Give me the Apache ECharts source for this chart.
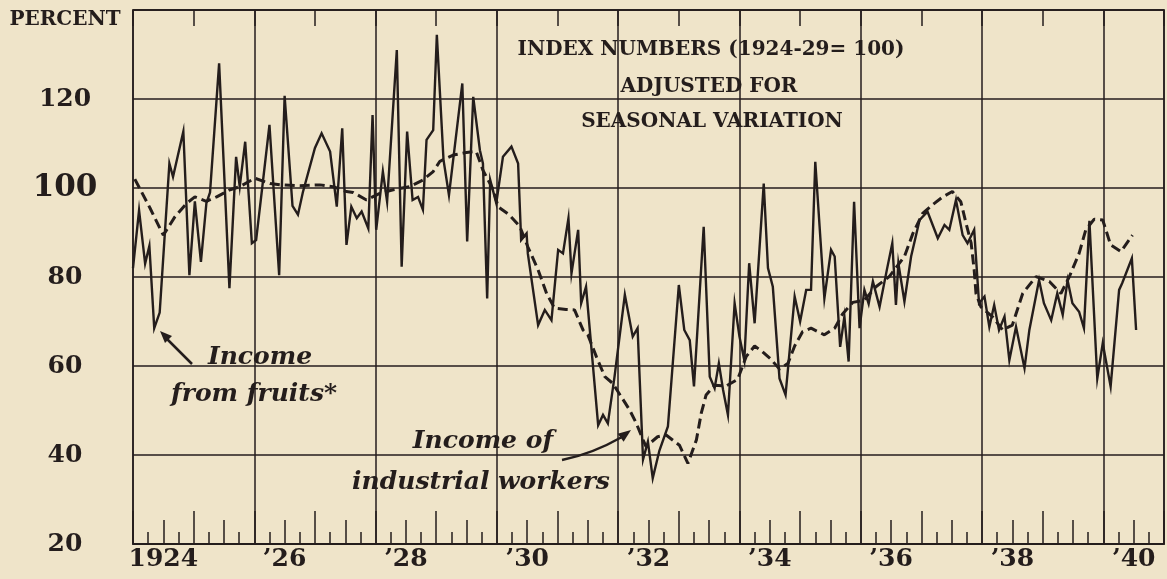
<!DOCTYPE html>
<html><head><meta charset="utf-8">
<script src="https://cdn.jsdelivr.net/npm/echarts/dist/echarts.min.js"></script>
<style>html,body{margin:0;padding:0;background:#efe4c9}#c{width:1167px;height:579px}</style>
</head><body><div id="c"></div>
<script>
// ---- data ----
const fruitDates = [1924.00,1924.10,1924.20,1924.27,1924.35,1924.44,1924.60,1924.66,1924.83,1924.93,
1925.02,1925.12,1925.21,1925.27,1925.42,1925.59,1925.70,1925.76,1925.85,1925.96,
1926.03,1926.13,1926.25,1926.41,1926.50,1926.63,1926.72,1926.80,
1927.00,1927.11,1927.25,1927.36,1927.45,1927.52,1927.60,1927.69,1927.77,1927.88,1927.95,
1928.01,1928.12,1928.19,1928.35,1928.43,1928.52,1928.61,1928.70,1928.78,1928.84,1928.95,
1929.01,1929.12,1929.21,1929.43,1929.51,1929.61,1929.72,1929.77,1929.84,1929.89,1929.99,
1930.10,1930.24,1930.35,1930.40,1930.49,1930.51,1930.68,1930.79,1930.90,
1931.01,1931.09,1931.18,1931.23,1931.34,1931.39,1931.47,1931.67,1931.75,1931.83,1931.94,
1932.11,1932.24,1932.32,1932.41,1932.49,1932.57,1932.68,1932.82,
1933.00,1933.09,1933.18,1933.25,1933.41,1933.51,1933.59,1933.66,1933.73,1933.81,1933.92,
1934.00,1934.08,1934.16,1934.25,1934.40,1934.47,1934.55,1934.66,1934.76,1934.91,
1935.00,1935.10,1935.18,1935.25,1935.40,1935.51,1935.57,1935.66,1935.73,1935.80,1935.89,1935.98,
1936.06,1936.13,1936.20,1936.31,1936.43,1936.52,1936.58,1936.62,1936.72,1936.83,1936.97,
1937.10,1937.27,1937.38,1937.46,1937.57,1937.68,1937.76,1937.87,1937.95,
1938.04,1938.12,1938.20,1938.28,1938.37,1938.45,1938.56,1938.70,1938.78,1938.94,
1939.02,1939.14,1939.24,1939.33,1939.41,1939.49,1939.60,1939.68,1939.77,1939.90,1939.99,
1940.12,1940.26,1940.31,1940.47,1940.54];
const fruitValues = [82,95,83,87,68.5,72,105.5,102.5,112.7,80.4,
97,83.4,96.6,99,128,77.5,107,100.3,110.4,87.6,
88.3,100,114.2,80.4,120.7,96,94,99,
109,112.3,108.2,95.8,113.4,87.2,95.8,93.2,94.7,90.9,116.4,
90.6,103.7,96.9,131,82.3,112.7,97.3,98,95.1,110.8,113,
134.4,106.3,98.4,123.5,88,120.5,108.5,105.5,75.2,101.8,96.6,
107,109.3,105.5,88.3,89.8,85.3,69.2,72.6,70.3,
86.1,85.3,93.2,80.8,90.6,74.1,77.8,46.7,49,47.1,57.6,
76,66.6,68.5,39,43,34.8,41,46.4,
78.2,68.1,65.8,55.4,91.3,57.6,55,60.6,54.6,49,74.1,
66.6,61.3,83.1,69.6,101,82,77.8,57.2,53.5,75.6,
70,77.1,77.1,105.9,75.2,86.1,84.6,64.3,71.1,61,96.9,68.5,
77.1,74,79,73.3,81.6,87.6,73.7,83.1,74.5,84.6,92.8,
94.7,88.7,91.7,90.6,97.3,89.4,87.6,90.6,74.1,
75.6,68.8,73.7,68.1,71.1,61.3,68.8,59.5,68.1,79.3,
74.1,70.3,76.3,71.5,79.3,74.1,72.2,68.5,92.6,57.2,65.1,
55.4,77.1,78.6,84.2,68.1];

const workerDates = [1924.03,1924.28,1924.50,1924.69,1924.88,1925.02,1925.21,1925.38,1925.60,1925.76,
1926.01,1926.26,1926.45,1926.75,1927.08,1927.30,1927.52,1927.63,1927.85,
1928.07,1928.29,1928.56,1928.78,1928.95,1929.06,1929.28,1929.50,1929.66,1929.77,1929.94,
1930.02,1930.21,1930.38,1930.51,1930.68,1930.82,1930.95,
1931.14,1931.28,1931.42,1931.50,1931.64,1931.78,1931.91,
1932.05,1932.19,1932.30,1932.41,1932.46,1932.65,1932.79,
1933.01,1933.15,1933.29,1933.37,1933.45,1933.59,1933.78,1933.97,
1934.11,1934.25,1934.38,1934.52,1934.66,1934.80,1934.91,
1935.04,1935.18,1935.40,1935.57,1935.70,1935.87,
1936.06,1936.25,1936.47,1936.72,1936.86,
1937.02,1937.18,1937.35,1937.51,1937.65,1937.73,1937.82,1937.87,1937.90,1937.98,
1938.17,1938.34,1938.50,1938.67,1938.89,
1939.11,1939.30,1939.44,1939.60,1939.71,1939.85,1939.99,
1940.12,1940.29,1940.48];
const workerValues = [102,95.5,89.4,93.5,96.5,98,97,98,99.6,100.3,
102.2,101,100.7,100.5,100.7,100.3,99.2,99,97.3,
98.8,99.6,100.3,101.8,103.7,106,107.4,108,108.2,104,99.6,
95.8,93.9,91.3,86.8,81.6,76.3,73,
72.7,72.6,68.1,67,62.1,57.6,56.1,
53.1,50.1,47.1,43.4,41.9,44.1,44.5,
42.2,38.1,43.4,49.4,53.5,55.7,55.5,57,
62.1,64.5,63.2,61.5,59.3,60.6,64.5,
67.7,68.5,67,68.5,71.7,74.3,
74.8,77.8,80.1,84.6,89.8,
94.3,96.2,98,99.2,96.9,92.4,87.6,81.6,76.3,73.3,
71.1,68.1,69.2,76.3,80.1,
79,76.3,80.1,85.3,90.6,93,92.8,
87.2,85.7,89.4];

const yearLabels = {1924:'1924',1926:'\u201926',1928:'\u201928',1930:'\u201930',1932:'\u201932',1934:'\u201934',1936:'\u201936',1938:'\u201938',1940:'\u201940'};
const yTickLabels = {20:'20',40:'40',60:'60',80:'80',100:'100',120:'120'};

// ---- chart ----
const INK = '#241d1c';
const SERIF = '"DejaVu Serif", "Liberation Serif", serif';
const chart = echarts.init(document.getElementById('c'), null, {renderer:'canvas'});

const xBase = {type:'value', min:1924, max:1941, gridIndex:0};
const option = {
  backgroundColor:'#efe4c9',
  animation:false,
  grid:{left:133, right:2, top:10, bottom:35, show:true, borderColor:INK, borderWidth:1.5, backgroundColor:'transparent'},
  xAxis:[
    Object.assign({}, xBase, {position:'bottom', interval:0.5,
      axisLine:{show:true, lineStyle:{color:INK, width:2}},
      axisTick:{show:true, inside:true, length:24, lineStyle:{color:INK, width:1.5}},
      minorTick:{show:true, splitNumber:2, length:12, lineStyle:{color:INK, width:1.5}},
      splitLine:{show:false},
      axisLabel:{show:true, margin:3, color:INK, fontFamily:SERIF, fontWeight:'bold', fontSize:25,
        formatter:function(v){ if(Math.abs(v-Math.floor(v)-0.5)<1e-6 && yearLabels[Math.floor(v)]) return yearLabels[Math.floor(v)]; return '';}}
    }),
    Object.assign({}, xBase, {position:'bottom', interval:1,
      axisLine:{show:false}, axisLabel:{show:false}, splitLine:{show:false},
      axisTick:{show:true, inside:true, length:33, lineStyle:{color:INK, width:1.5}}}),
    Object.assign({}, xBase, {position:'top', interval:2,
      axisLine:{show:false}, axisLabel:{show:false}, axisTick:{show:false},
      splitLine:{show:true, lineStyle:{color:INK, width:1.5}}}),
    Object.assign({}, xBase, {position:'top', interval:1,
      axisLine:{show:true, lineStyle:{color:INK, width:1.5}}, axisLabel:{show:false}, splitLine:{show:false},
      axisTick:{show:true, inside:true, length:16, lineStyle:{color:INK, width:1.5}}})
  ],
  yAxis:{type:'value', min:20, max:140, interval:20,
    axisLine:{show:false}, axisTick:{show:false},
    splitLine:{show:true, lineStyle:{color:INK, width:1.5}},
    axisLabel:{margin:68, align:'center', color:INK, fontFamily:SERIF, fontWeight:'bold', fontSize:25,
      formatter:function(v){ if(v===100) return '{big|100}'; return yTickLabels[v]||''; },
      rich:{big:{fontSize:31, fontWeight:'bold', fontFamily:SERIF, color:INK}}}
  },
  series:[
    {name:'Income from fruits*', type:'line', xAxisIndex:0, symbol:'none', z:5,
      data:fruitDates.map((d,i)=>[d, fruitValues[i]]),
      lineStyle:{color:INK, width:2.4, join:'miter'}},
    {name:'Income of industrial workers', type:'line', xAxisIndex:0, symbol:'none', z:6,
      data:workerDates.map((d,i)=>[d, workerValues[i]]),
      lineStyle:{color:INK, width:3, type:[10,5]}}
  ],
  graphic:[
    {type:'text', x:65, y:20, style:{text:'PERCENT', font:'bold 20px '+SERIF, fill:INK, align:'center', verticalAlign:'middle'}},
    {type:'text', x:711, y:50, z:10, style:{text:'INDEX NUMBERS (1924-29= 100)', font:'bold 20px '+SERIF, fill:INK, align:'center', verticalAlign:'middle'}},
    {type:'text', x:709, y:87, z:10, style:{text:'ADJUSTED FOR', font:'bold 20px '+SERIF, fill:INK, align:'center', verticalAlign:'middle'}},
    {type:'text', x:712, y:122, z:10, style:{text:'SEASONAL VARIATION', font:'bold 20px '+SERIF, fill:INK, align:'center', verticalAlign:'middle'}},
    {type:'text', x:260, y:357, z:10, style:{text:'Income', font:'italic bold 25px '+SERIF, fill:INK, align:'center', verticalAlign:'middle'}},
    {type:'text', x:254, y:394, z:10, style:{text:'from fruits*', font:'italic bold 25px '+SERIF, fill:INK, align:'center', verticalAlign:'middle'}},
    {type:'text', x:483, y:441, z:10, style:{text:'Income of', font:'italic bold 25px '+SERIF, fill:INK, align:'center', verticalAlign:'middle'}},
    {type:'text', x:481, y:482, z:10, style:{text:'industrial workers', font:'italic bold 25px '+SERIF, fill:INK, align:'center', verticalAlign:'middle'}},
    {type:'line', z:10, shape:{x1:192, y1:364, x2:167, y2:339}, style:{stroke:INK, lineWidth:2.5}},
    {type:'polygon', z:10, shape:{points:[[160,331],[172,336],[165,343]]}, style:{fill:INK}},
    {type:'bezierCurve', z:10, shape:{x1:562, y1:460, x2:621, y2:437.5, cpx1:592, cpy1:454}, style:{stroke:INK, lineWidth:2.5, fill:'none'}},
    {type:'polygon', z:10, shape:{points:[[631,430],[623.6,441.8],[617.6,433.8]]}, style:{fill:INK}}
  ]
};
chart.setOption(option);
</script>
</body></html>
